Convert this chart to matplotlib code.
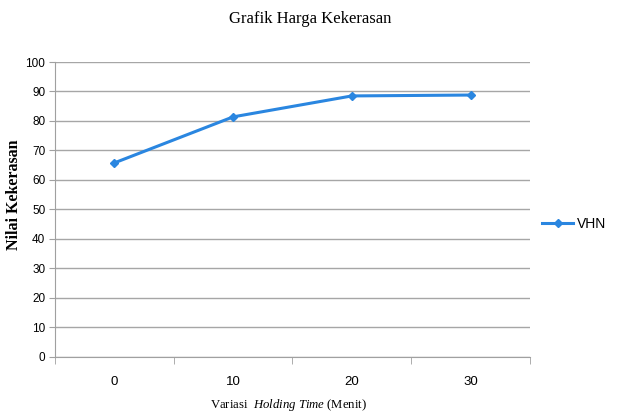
import matplotlib
matplotlib.use("Agg")
import matplotlib.pyplot as plt
import numpy as np

plt.rcParams["mathtext.fontset"] = "custom"
plt.rcParams["mathtext.rm"] = "Liberation Serif"
plt.rcParams["mathtext.it"] = "Liberation Serif:italic"

waktu = ["0", "10", "20", "30"]
vhn = [65.8, 81.4, 88.5, 88.8]

fig = plt.figure(figsize=(6.21, 4.15), dpi=100)
ax = fig.add_axes([0.0886, 0.1398, 0.7648, 0.7108])

x = np.arange(len(waktu))
ax.plot(x, vhn, color="#2a86e0", lw=2.2, marker="D", ms=4, label="VHN")

ax.set_xlim(-0.5, len(waktu) - 0.5)
ax.set_ylim(0, 100)
ax.set_yticks(range(0, 101, 10))
ax.set_xticks(x)
ax.set_xticklabels(waktu)
ax.set_xticks(np.arange(-0.5, len(waktu), 1.0), minor=True)
ax.tick_params(axis="x", which="major", length=0, pad=14, labelsize=9.5)
ax.tick_params(axis="x", which="minor", length=5, color="#a0a0a0", direction="out")
ax.tick_params(axis="y", length=4, color="#a0a0a0", labelsize=8.5, pad=3)
for lab in ax.get_xticklabels() + ax.get_yticklabels():
    lab.set_fontfamily("Liberation Sans")

ax.grid(axis="y", color="#a6a6a6", lw=1)
ax.set_axisbelow(True)
for s in ["top", "right"]:
    ax.spines[s].set_visible(False)
for s in ["left", "bottom"]:
    ax.spines[s].set_color("#a0a0a0")

fig.text(0.5, 0.955, "Grafik Harga Kekerasan", ha="center", va="center",
         family="Liberation Serif", fontsize=12)
fig.text(0.022, 0.53, "Nilai Kekerasan", rotation=90, ha="center", va="center",
         family="Liberation Serif", fontweight="bold", fontsize=11.5)
fig.text(0.465, 0.025, "Variasi  $\\it{Holding\\ Time}$ (Menit)", ha="center",
         va="center", family="Liberation Serif", fontsize=9.2)

ax.legend(loc="center left", bbox_to_anchor=(1.0, 0.45), frameon=False,
          prop={"family": "Liberation Sans", "size": 10}, handlelength=2.2,
          handletextpad=0.3)

fig.savefig("out.png", dpi=100)
